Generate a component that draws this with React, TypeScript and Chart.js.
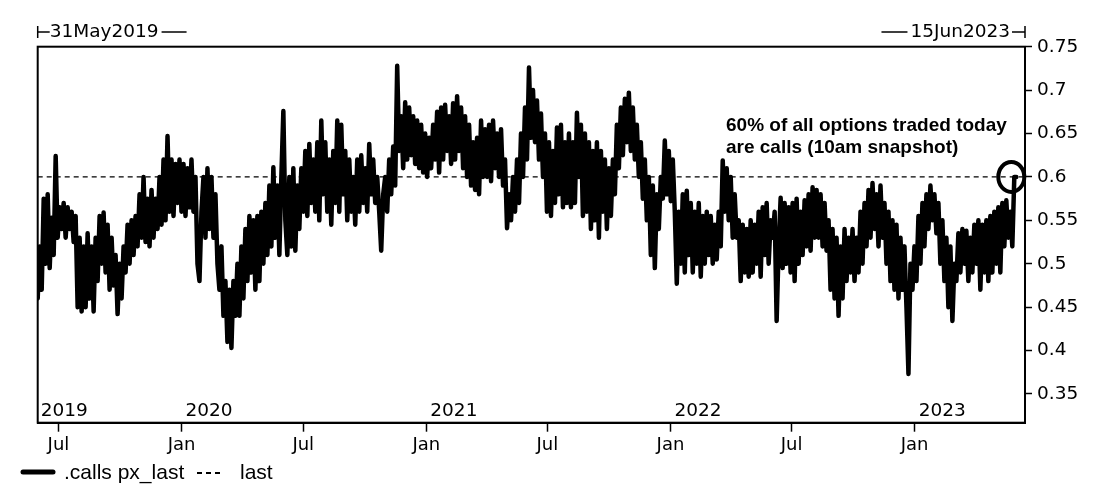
import { useEffect, useRef } from "react"
import { Chart, registerables } from "chart.js"

Chart.register(...registerables)

// date range shown on the chart, in calendar days from 31May2019
const startLabel = "31May2019"
const endLabel = "15Jun2023"
const totalDays = 1476
const lastDay = 1463

// .calls px_last (one value roughly every 3 days)
const callRatio = [
  0.46, 0.52, 0.47, 0.575, 0.5, 0.58, 0.495, 0.553, 0.51, 0.624,
  0.53, 0.565, 0.54, 0.57, 0.53, 0.565, 0.54, 0.56, 0.525, 0.555,
  0.45, 0.53, 0.445, 0.52, 0.45, 0.535, 0.46, 0.52, 0.445, 0.53,
  0.48, 0.555, 0.5, 0.559, 0.49, 0.545, 0.47, 0.53, 0.475, 0.51,
  0.442, 0.5, 0.46, 0.52, 0.49, 0.545, 0.5, 0.55, 0.51, 0.555,
  0.52, 0.58, 0.53, 0.6, 0.525, 0.575, 0.52, 0.585, 0.53, 0.575,
  0.54, 0.6, 0.545, 0.62, 0.55, 0.647, 0.56, 0.62, 0.555, 0.615,
  0.57, 0.62, 0.56, 0.615, 0.555, 0.61, 0.565, 0.62, 0.56, 0.6,
  0.5, 0.48, 0.56, 0.6, 0.53, 0.61, 0.54, 0.6, 0.53, 0.58,
  0.5, 0.47, 0.52, 0.44, 0.48, 0.41, 0.47, 0.403, 0.48, 0.44,
  0.5, 0.44, 0.52, 0.46, 0.54, 0.48, 0.555, 0.49, 0.55, 0.47,
  0.555, 0.48, 0.56, 0.5, 0.57, 0.51, 0.59, 0.52, 0.611, 0.53,
  0.59, 0.51, 0.6, 0.676, 0.55, 0.51, 0.6, 0.52, 0.61, 0.515,
  0.59, 0.54, 0.61, 0.56, 0.63, 0.555, 0.638, 0.57, 0.62, 0.56,
  0.64, 0.55, 0.665, 0.58, 0.64, 0.56, 0.62, 0.545, 0.63, 0.57,
  0.665, 0.56, 0.66, 0.58, 0.63, 0.55, 0.62, 0.56, 0.6, 0.545,
  0.62, 0.56, 0.625, 0.57, 0.61, 0.56, 0.638, 0.58, 0.62, 0.57,
  0.6, 0.56, 0.515, 0.58, 0.6, 0.56, 0.62, 0.58, 0.635, 0.59,
  0.728, 0.63, 0.67, 0.61, 0.686, 0.62, 0.68, 0.625, 0.67, 0.615,
  0.665, 0.61, 0.66, 0.605, 0.65, 0.6, 0.645, 0.61, 0.66, 0.62,
  0.675, 0.605, 0.68, 0.62, 0.683, 0.63, 0.67, 0.615, 0.685, 0.62,
  0.693, 0.63, 0.68, 0.61, 0.67, 0.6, 0.66, 0.59, 0.64, 0.585,
  0.645, 0.58, 0.665, 0.6, 0.655, 0.6, 0.66, 0.595, 0.665, 0.61,
  0.65, 0.6, 0.655, 0.59, 0.62, 0.541, 0.58, 0.55, 0.6, 0.56,
  0.62, 0.57, 0.65, 0.6, 0.68, 0.62, 0.726, 0.645, 0.7, 0.64,
  0.688, 0.62, 0.673, 0.6, 0.65, 0.56, 0.64, 0.555, 0.63, 0.57,
  0.657, 0.58, 0.66, 0.565, 0.64, 0.57, 0.65, 0.565, 0.64, 0.57,
  0.674, 0.6, 0.66, 0.555, 0.65, 0.56, 0.64, 0.54, 0.63, 0.55,
  0.64, 0.53, 0.63, 0.56, 0.62, 0.54, 0.61, 0.555, 0.62, 0.58,
  0.66, 0.61, 0.68, 0.625, 0.69, 0.64, 0.697, 0.63, 0.68, 0.62,
  0.66, 0.6, 0.64, 0.575, 0.62, 0.55, 0.6, 0.51, 0.59, 0.495,
  0.58, 0.54, 0.6, 0.575, 0.642, 0.58, 0.63, 0.572, 0.62, 0.56,
  0.477, 0.56, 0.5, 0.58, 0.49, 0.584, 0.51, 0.57, 0.49, 0.56,
  0.5, 0.57, 0.485, 0.555, 0.5, 0.56, 0.51, 0.555, 0.5, 0.545,
  0.505, 0.56, 0.52, 0.619, 0.56, 0.61, 0.55, 0.6, 0.53, 0.58,
  0.53, 0.55, 0.48, 0.545, 0.49, 0.54, 0.485, 0.55, 0.49, 0.545,
  0.5, 0.56, 0.485, 0.565, 0.51, 0.57, 0.5, 0.55, 0.53, 0.56,
  0.434, 0.52, 0.576, 0.495, 0.57, 0.5, 0.565, 0.49, 0.57, 0.48,
  0.575, 0.5, 0.56, 0.51, 0.573, 0.52, 0.58, 0.515, 0.588, 0.53,
  0.585, 0.53, 0.58, 0.52, 0.57, 0.515, 0.55, 0.47, 0.54, 0.46,
  0.53, 0.44, 0.52, 0.46, 0.54, 0.48, 0.53, 0.49, 0.54, 0.48,
  0.53, 0.49, 0.56, 0.5, 0.57, 0.52, 0.585, 0.53, 0.593, 0.54,
  0.58, 0.52, 0.59, 0.53, 0.57, 0.5, 0.56, 0.48, 0.55, 0.47,
  0.545, 0.46, 0.53, 0.47, 0.52, 0.45, 0.373, 0.5, 0.47, 0.52,
  0.48, 0.555, 0.5, 0.57, 0.52, 0.58, 0.54, 0.59, 0.55, 0.58,
  0.535, 0.57, 0.5, 0.55, 0.48, 0.53, 0.45, 0.52, 0.434, 0.5,
  0.48, 0.535, 0.49, 0.54, 0.5, 0.538, 0.48, 0.53, 0.49, 0.545,
  0.5, 0.55, 0.47, 0.545, 0.49, 0.55, 0.48, 0.555, 0.49, 0.56,
  0.5, 0.565, 0.49, 0.57, 0.52, 0.573, 0.53, 0.56, 0.52, 0.6,
  0.6,
]
const lastLevel = 0.6

const xTickDays = [31, 215, 397, 581, 762, 946, 1127, 1311]
const xTickLabels = ["Jul", "Jan", "Jul", "Jan", "Jul", "Jan", "Jul", "Jan"]
const yearDays = [0, 215, 581, 946, 1311]
const yearLabels = ["2019", "2020", "2021", "2022", "2023"]
const yTicks = [0.35, 0.4, 0.45, 0.5, 0.55, 0.6, 0.65, 0.7, 0.75]

const noteLines = ["60% of all options traded today", "are calls (10am snapshot)"]
const legendMain = ".calls px_last"
const legendLast = "last"

const axisFont = "18.5px 'DejaVu Sans'"

const extras = {
  id: "extras",
  afterDraw(chart: any) {
    const { ctx, chartArea } = chart
    const { left, right, top, bottom } = chartArea
    const xs = chart.scales.x
    const ys = chart.scales.y
    ctx.save()
    ctx.strokeStyle = "#000"
    ctx.fillStyle = "#000"

    // frame
    ctx.lineWidth = 2
    ctx.strokeRect(left, top, right - left, bottom - top)

    // date range header
    ctx.font = axisFont
    ctx.textBaseline = "middle"
    ctx.lineWidth = 1.5
    const hy = 32
    ctx.beginPath()
    ctx.moveTo(left, hy - 6)
    ctx.lineTo(left, hy + 6)
    ctx.moveTo(left, hy)
    ctx.lineTo(left + 12, hy)
    ctx.stroke()
    ctx.textAlign = "left"
    ctx.fillText(startLabel, left + 12, hy)
    const sw = ctx.measureText(startLabel).width
    ctx.beginPath()
    ctx.moveTo(left + 15 + sw, hy)
    ctx.lineTo(left + 40 + sw, hy)
    ctx.stroke()

    ctx.textAlign = "right"
    ctx.fillText(endLabel, right - 15, hy)
    const ew = ctx.measureText(endLabel).width
    ctx.beginPath()
    ctx.moveTo(right, hy - 6)
    ctx.lineTo(right, hy + 6)
    ctx.moveTo(right, hy)
    ctx.lineTo(right - 13, hy)
    ctx.moveTo(right - 18 - ew, hy)
    ctx.lineTo(right - 44 - ew, hy)
    ctx.stroke()

    // year labels inside the plot
    ctx.textAlign = "left"
    yearDays.forEach((d, i) => {
      const x = i === 0 ? left + 3 : xs.getPixelForValue(d) + 4
      ctx.fillText(yearLabels[i], x, bottom - 12)
    })

    // note
    ctx.font = "bold 19px 'Liberation Sans'"
    ctx.fillText(noteLines[0], 726, 126)
    ctx.fillText(noteLines[1], 726, 148)

    // circle round the last print
    const cx = xs.getPixelForValue(lastDay) - 5
    const cy = ys.getPixelForValue(callRatio[callRatio.length - 1])
    ctx.lineWidth = 4
    ctx.beginPath()
    ctx.ellipse(cx, cy, 13, 15, 0, 0, Math.PI * 2)
    ctx.stroke()

    // legend
    const ly = 472
    ctx.lineWidth = 5
    ctx.lineCap = "round"
    ctx.beginPath()
    ctx.moveTo(23, ly)
    ctx.lineTo(53, ly)
    ctx.stroke()
    ctx.lineCap = "butt"
    ctx.font = "21px 'Liberation Sans'"
    ctx.fillText(legendMain, 64, ly + 1)
    ctx.lineWidth = 2
    ctx.setLineDash([5, 4])
    ctx.beginPath()
    ctx.moveTo(197, ly + 1)
    ctx.lineTo(223, ly + 1)
    ctx.stroke()
    ctx.setLineDash([])
    ctx.fillText(legendLast, 240, ly + 1)
    ctx.restore()
  },
}

export default function App() {
  const chartRef = useRef<HTMLCanvasElement>(null)
  const chartInstance = useRef<Chart | null>(null)

  useEffect(() => {
    document.body.style.margin = "0"
    if (!chartRef.current) return
    if (chartInstance.current) chartInstance.current.destroy()

    const step = lastDay / (callRatio.length - 1)
    const mainPoints = callRatio.map((v, i) => ({ x: i * step, y: v }))
    const lastPoints = [
      { x: 0, y: lastLevel },
      { x: totalDays, y: lastLevel },
    ]

    chartInstance.current = new Chart(chartRef.current, {
      type: "line",
      data: {
        datasets: [
          {
            label: ".calls px_last",
            data: mainPoints,
            borderColor: "#000",
            borderWidth: 4.5,
            borderJoinStyle: "round",
            borderCapStyle: "round",
            pointRadius: 0,
            tension: 0,
          },
          {
            label: "last",
            data: lastPoints,
            borderColor: "#000",
            borderWidth: 1.2,
            borderDash: [5, 4],
            pointRadius: 0,
          },
        ],
      },
      options: {
        animation: false,
        responsive: true,
        maintainAspectRatio: false,
        layout: { padding: { left: 37.7, top: 46.7, right: 0, bottom: 0 } },
        plugins: { legend: { display: false }, tooltip: { enabled: false } },
        scales: {
          x: {
            type: "linear",
            min: 0,
            max: totalDays,
            afterBuildTicks: (scale: any) => {
              scale.ticks = xTickDays.map((v) => ({ value: v }))
            },
            afterFit: (scale: any) => {
              scale.height = 70.3
            },
            ticks: {
              autoSkip: false,
              maxRotation: 0,
              padding: 3,
              color: "#000",
              font: { family: "DejaVu Sans", size: 18 },
              callback: (_v: any, i: number) => xTickLabels[i],
            },
            grid: { drawOnChartArea: false, drawTicks: true, tickLength: 9, tickColor: "#000", tickWidth: 1.5 },
            border: { display: true, color: "#000", width: 2 },
          },
          y: {
            position: "right",
            min: 0.3169,
            max: 0.75,
            afterBuildTicks: (scale: any) => {
              scale.ticks = yTicks.map((v) => ({ value: v }))
            },
            afterFit: (scale: any) => {
              scale.width = 75
            },
            ticks: {
              padding: 5,
              color: "#000",
              font: { family: "DejaVu Sans", size: 18.5 },
              callback: (v: any) => String(v),
            },
            grid: { drawOnChartArea: false, drawTicks: true, tickLength: 7, tickColor: "#000", tickWidth: 1.5 },
            border: { display: true, color: "#000", width: 2 },
          },
        },
      },
      plugins: [extras],
    })

    return () => {
      if (chartInstance.current) {
        chartInstance.current.destroy()
        chartInstance.current = null
      }
    }
  }, [])

  return (
    <div style={{ width: 1100, height: 493, position: "relative" }}>
      <canvas ref={chartRef} />
    </div>
  )
}
